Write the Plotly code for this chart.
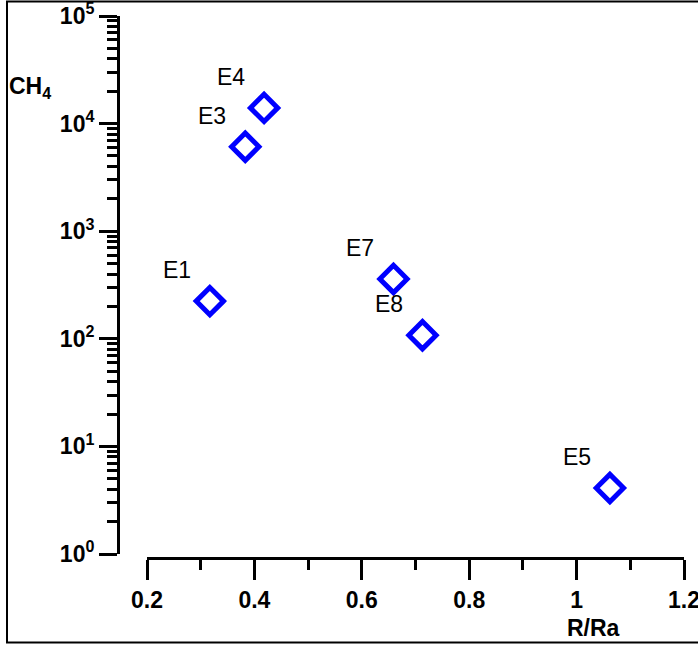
import math
import plotly.graph_objects as go

# ---- data ----
labels = ["E1", "E3", "E4", "E7", "E8", "E5"]
r_ra = [0.317, 0.383, 0.418, 0.659, 0.713, 1.062]
ch4 = [224, 6100, 14000, 360, 108, 4.1]

x_tickvals = [0.2, 0.4, 0.6, 0.8, 1.0, 1.2]
x_ticktext = ["0.2", "0.4", "0.6", "0.8", "1", "1.2"]
x_minor = [0.3, 0.5, 0.7, 0.9, 1.1]
y_tickvals = [1, 10, 100, 1000, 10000, 100000]
y_ticktext = ["10<sup>0</sup>", "10<sup>1</sup>", "10<sup>2</sup>",
              "10<sup>3</sup>", "10<sup>4</sup>", "10<sup>5</sup>"]
y_minor = [m * 10 ** e for e in range(5) for m in range(2, 10)]

# ---- layout geometry (pixels) ----
WIDTH, HEIGHT = 698, 648
ML, MR, MT, MB = 118, 14, 16, 90
PW = WIDTH - ML - MR
PH = HEIGHT - MT - MB

def px(x):
    return (x - ML) / PW

def py(y):
    return (HEIGHT - MB - y) / PH

FONT = "Liberation Sans, Arial, sans-serif"

fig = go.Figure()
fig.add_trace(go.Scatter(
    x=r_ra, y=ch4, mode="markers",
    marker=dict(symbol="diamond-open", size=21, color="#0000FF",
                line=dict(width=5, color="#0000FF")),
    showlegend=False, hoverinfo="skip",
))

for lab, xv, yv in zip(labels, r_ra, ch4):
    fig.add_annotation(x=xv, y=math.log10(yv), text=lab, showarrow=False,
                       xshift=-33, yshift=31,
                       font=dict(family=FONT, size=23, color="black"))

fig.add_annotation(xref="paper", yref="paper", x=px(593), y=py(628),
                   xanchor="center", yanchor="middle",
                   text="<b>R/Ra</b>", showarrow=False,
                   font=dict(family=FONT, size=23, color="black"))
fig.add_annotation(xref="paper", yref="paper", x=px(7), y=py(88),
                   xanchor="left", yanchor="middle",
                   text="<b>CH<sub>4</sub></b>", showarrow=False,
                   font=dict(family=FONT, size=23, color="black"))

fig.add_shape(type="rect", xref="paper", yref="paper",
              x0=px(7), x1=px(700), y0=py(642.5), y1=py(1.5),
              line=dict(color="black", width=2))

fig.update_layout(
    width=WIDTH, height=HEIGHT,
    margin=dict(l=ML, r=MR, t=MT, b=MB, pad=0, autoexpand=False),
    paper_bgcolor="white", plot_bgcolor="white",
    xaxis=dict(
        domain=[px(147), 1], range=[0.2, 1.2], anchor="free", position=0,
        automargin=False, ticklabeloverflow="allow",
        showgrid=False, zeroline=False, showline=True, linecolor="black", linewidth=3,
        tickmode="array", tickvals=x_tickvals, ticktext=x_ticktext,
        ticks="outside", ticklen=20, tickwidth=3, tickcolor="black",
        tickfont=dict(family=FONT, size=23, color="black", weight="bold"),
        minor=dict(tickmode="array", tickvals=x_minor, ticks="outside",
                   ticklen=10, tickwidth=3, tickcolor="black"),
    ),
    yaxis=dict(
        type="log", domain=[4 / PH, 1], range=[0, 5], anchor="free", position=0,
        automargin=False, ticklabeloverflow="allow",
        showgrid=False, zeroline=False, showline=True, linecolor="black", linewidth=3,
        tickmode="array", tickvals=y_tickvals, ticktext=y_ticktext,
        ticks="outside", ticklen=18, tickwidth=3, tickcolor="black",
        tickfont=dict(family=FONT, size=23, color="black", weight="bold"),
        minor=dict(tickmode="array", tickvals=y_minor, ticks="outside",
                   ticklen=10, tickwidth=3, tickcolor="black"),
    ),
)

fig.write_html("out.html")
